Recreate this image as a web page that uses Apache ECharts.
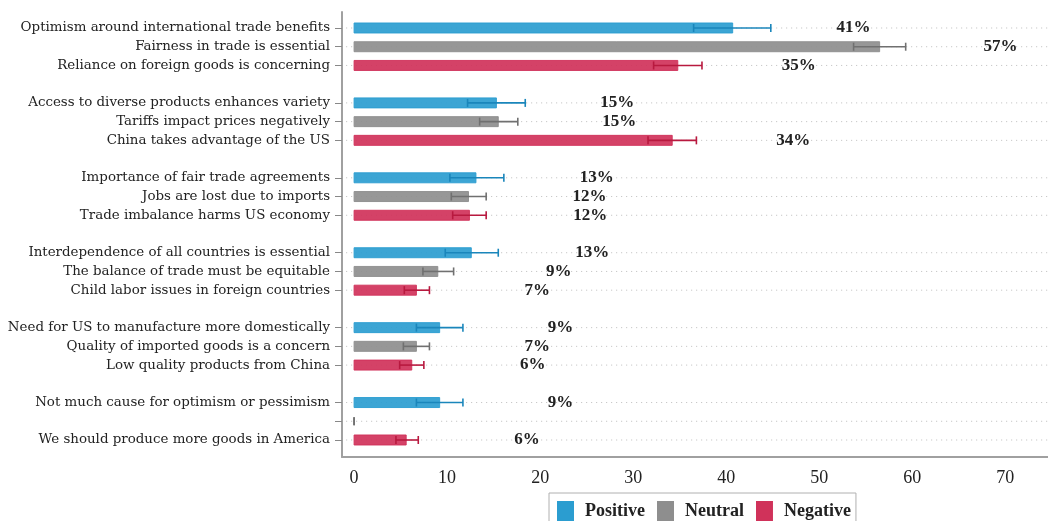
<!DOCTYPE html>
<html>
<head>
<meta charset="utf-8">
<script src="https://cdn.jsdelivr.net/npm/echarts@6/dist/echarts.min.js"></script>
<style>
html,body{margin:0;padding:0;background:#fff;}
#chart{width:1048px;height:521px;}
</style>
</head>
<body>
<div id="chart"></div>
<script>
// ---- data ----
const categories = [
  "Optimism around international trade benefits",
  "Fairness in trade is essential",
  "Reliance on foreign goods is concerning",
  "Access to diverse products enhances variety",
  "Tariffs impact prices negatively",
  "China takes advantage of the US",
  "Importance of fair trade agreements",
  "Jobs are lost due to imports",
  "Trade imbalance harms US economy",
  "Interdependence of all countries is essential",
  "The balance of trade must be equitable",
  "Child labor issues in foreign countries",
  "Need for US to manufacture more domestically",
  "Quality of imported goods is a concern",
  "Low quality products from China",
  "Not much cause for optimism or pessimism",
  "",
  "We should produce more goods in America"
];
const sentiments = ["Positive", "Neutral", "Negative"];
const rowSentiment = ["Positive","Neutral","Negative","Positive","Neutral","Negative","Positive","Neutral","Negative",
                      "Positive","Neutral","Negative","Positive","Neutral","Negative","Positive","Neutral","Negative"];
const values = [40.7, 56.5, 34.8, 15.3, 15.5, 34.2, 13.1, 12.3, 12.4, 12.6, 9.0, 6.7, 9.2, 6.7, 6.2, 9.2, 0, 5.6];
const lower  = [36.5, 53.7, 32.2, 12.2, 13.5, 31.6, 10.3, 10.45, 10.6, 9.8, 7.4, 5.4, 6.7, 5.3, 4.9, 6.7, 0, 4.5];
const upper  = [44.8, 59.3, 37.4, 18.4, 17.6, 36.8, 16.1, 14.2, 14.2, 15.5, 10.7, 8.1, 11.7, 8.1, 7.5, 11.7, 0, 6.9];
const pctLabels = ["41%","57%","35%","15%","15%","34%","13%","12%","12%","13%","9%","7%","9%","7%","6%","9%","","6%"];
const xTicks = [0, 10, 20, 30, 40, 50, 60, 70];

// ---- style ----
const colors = { Positive: "#2b9dd0", Neutral: "#8e8e8e", Negative: "#d0325a" };
const darker = { Positive: "#1a86bb", Neutral: "#707070", Negative: "#b8193f" };
const serif = "'Liberation Serif', serif";
const catFont = "'DejaVu Serif', serif";
const labelShift = 13;   // percentage label sits this many axis units right of the bar value
const groupSize = 3;

// row slot on the y axis: a blank slot separates each group of three
const slotOf = i => i + Math.floor(i / groupSize);
const slotName = {};
categories.forEach((c, i) => { slotName[slotOf(i)] = c; });
const tickSlots = categories.map((c, i) => slotOf(i));

function renderRow(params, api) {
  const v = api.value(0), slot = api.value(1), lo = api.value(2), hi = api.value(3), idx = api.value(4);
  const sent = rowSentiment[idx];
  const cs = params.coordSys;
  const p0 = api.coord([0, slot]);
  const pv = api.coord([v, slot]);
  const pl = api.coord([lo, slot]);
  const ph = api.coord([hi, slot]);
  const pt = api.coord([v + labelShift, slot]);
  const h = 10, cap = 8;
  const y = p0[1];
  const children = [
    { type: 'line', shape: { x1: cs.x + 4, y1: y, x2: cs.x + cs.width, y2: y },
      style: { stroke: '#c8c8c8', lineWidth: 1, lineDash: [1.2, 3.8] }, silent: true },
  ];
  if (v > 0) {
    children.push({ type: 'rect', shape: { x: p0[0], y: y - h / 2, width: pv[0] - p0[0], height: h },
      style: { fill: colors[sent], opacity: 0.92, stroke: colors[sent], lineWidth: 1 } });
  }
  children.push(
    { type: 'line', shape: { x1: pl[0], y1: y, x2: ph[0], y2: y }, style: { stroke: darker[sent], lineWidth: 1.6 } },
    { type: 'line', shape: { x1: pl[0], y1: y - cap / 2, x2: pl[0], y2: y + cap / 2 }, style: { stroke: darker[sent], lineWidth: 1.6 } },
    { type: 'line', shape: { x1: ph[0], y1: y - cap / 2, x2: ph[0], y2: y + cap / 2 }, style: { stroke: darker[sent], lineWidth: 1.6 } },
    { type: 'text', x: pt[0], y: y, style: { text: pctLabels[idx], fill: '#222', font: "bold 17px " + serif,
      align: 'center', verticalAlign: 'middle' } }
  );
  return { type: 'group', children };
}

const series = sentiments.map(s => ({
  name: s,
  type: 'custom',
  renderItem: renderRow,
  itemStyle: { color: colors[s] },
  encode: { x: 0, y: 1 },
  clip: false,
  data: categories.map((c, i) => [values[i], slotOf(i), lower[i], upper[i], i]).filter((d, i) => rowSentiment[i] === s)
}));

const chart = echarts.init(document.getElementById('chart'), null, { renderer: 'canvas' });
chart.setOption({
  animation: false,
  backgroundColor: '#fff',
  grid: { left: 342, right: 0, top: 12, bottom: 64, containLabel: false, outerBoundsMode: 'none' },
  xAxis: {
    type: 'value', min: -1.3, max: 74.6,
    axisLine: { show: true, onZero: false, lineStyle: { color: '#a0a0a0', width: 2 } },
    axisTick: { show: false },
    splitLine: { show: false },
    axisLabel: { customValues: xTicks, margin: 12, color: '#222', fontFamily: serif, fontSize: 18 }
  },
  yAxis: {
    type: 'value', inverse: true, min: -0.854, max: 22.908,
    axisLine: { show: true, onZero: false, lineStyle: { color: '#a0a0a0', width: 2 } },
    axisTick: { show: true, customValues: tickSlots, length: 7, lineStyle: { color: '#888', width: 1 } },
    splitLine: { show: false },
    axisLabel: { customValues: tickSlots, margin: 12, color: '#222', fontFamily: catFont, fontSize: 13.4,
      formatter: v => slotName[Math.round(v)] || '' }
  },
  legend: {
    data: sentiments, left: 549, top: 493, orient: 'horizontal',
    icon: 'rect', itemWidth: 17, itemHeight: 20, itemGap: 12,
    padding: [8, 5, 8, 8],
    borderColor: '#b0b0b0', borderWidth: 1, backgroundColor: '#fff',
    textStyle: { fontFamily: serif, fontSize: 18, fontWeight: 'bold', color: '#222', padding: [0, 0, 0, 6] }
  },
  series
});
</script>
</body>
</html>
